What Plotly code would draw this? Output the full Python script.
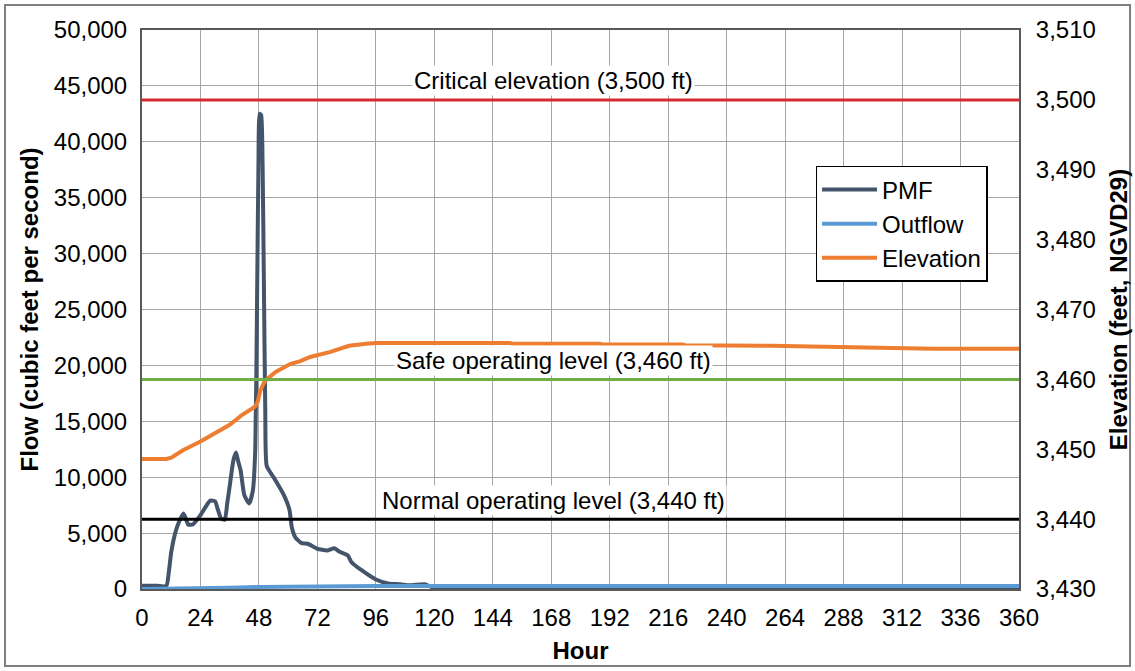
import plotly.graph_objects as go

# ---------------- data ----------------
pmf_hours = [0, 5, 10, 11, 12, 13.5, 15, 17, 18, 19, 21, 24, 26, 28, 30, 31, 32.5, 34, 35, 36,
             37.5, 38.6, 39.5, 40.5, 42, 44, 45.5, 46.5, 47.2, 47.8, 48.3, 48.9, 49.5, 50, 50.6,
             51.2, 54, 58, 60.5, 61.5, 63, 65.5, 68, 72, 76, 79, 81, 84.5, 86, 90, 96, 101, 106,
             110, 116, 119.5, 124, 360]
pmf_flow = [300, 300, 280, 1500, 3300, 4900, 5900, 6750, 6300, 5750, 5800, 6600, 7300, 7900, 7850,
            7200, 6300, 6200, 7700, 9200, 11500, 12200, 11400, 10600, 8400, 7650, 8800, 12500,
            25000, 38000, 42500, 42400, 38000, 28000, 16000, 11000, 10000, 8500, 7100, 5500, 4600,
            4100, 4050, 3600, 3450, 3650, 3350, 3000, 2400, 1700, 850, 500, 420, 330, 420, 120, 50, 50]

outflow_hours = [0, 12, 24, 36, 48, 60, 72, 96, 120, 360]
outflow_flow = [0, 20, 60, 120, 180, 220, 240, 260, 270, 270]

elev_hours = [0, 10, 12, 17, 24, 30.7, 36, 41, 46.4, 47.5, 48.5, 50, 51.5, 55, 60.8, 65, 69, 77,
              85, 92, 96, 151, 152, 188, 189, 222, 223, 258, 292, 325, 360]
elev_ft = [3448.6, 3448.6, 3448.8, 3449.9, 3451.1, 3452.5, 3453.5, 3454.9, 3456.1, 3456.8, 3458.3,
           3459.5, 3460.1, 3461.1, 3462.2, 3462.6, 3463.2, 3463.9, 3464.8, 3465.1, 3465.2, 3465.2,
           3465.1, 3465.1, 3465.0, 3465.0, 3464.9, 3464.8, 3464.6, 3464.4, 3464.4]

ref_levels = [3500, 3460, 3440]
ref_labels = ["Critical elevation (3,500 ft)", "Safe operating level (3,460 ft)",
              "Normal operating level (3,440 ft)"]
ref_colors = ["#D42A2F", "#70AD47", "#000000"]

x_ticks = list(range(0, 361, 24))

FONT = "Liberation Sans, Arial, sans-serif"
FS = 24

fig = go.Figure()
fig.add_trace(go.Scatter(x=pmf_hours, y=pmf_flow, name="PMF", mode="lines",
                         line=dict(color="#44546A", width=4, shape="spline", smoothing=0.5)))
fig.add_trace(go.Scatter(x=outflow_hours, y=outflow_flow, name="Outflow", mode="lines",
                         line=dict(color="#5B9BD5", width=4)))
fig.add_trace(go.Scatter(x=elev_hours, y=elev_ft, name="Elevation", mode="lines", yaxis="y2",
                         line=dict(color="#ED7D31", width=4)))

shapes = []
annotations = []
for lvl, lab, col in zip(ref_levels, ref_labels, ref_colors):
    shapes.append(dict(type="line", xref="x", yref="y2", x0=0, x1=360, y0=lvl, y1=lvl,
                       line=dict(color=col, width=3), layer="above"))
    annotations.append(dict(x=169, y=lvl, xref="x", yref="y2", text=lab, showarrow=False,
                            yshift=19, bgcolor="white", borderpad=1,
                            font=dict(family=FONT, size=FS, color="black")))

# outer frame
shapes.append(dict(type="rect", xref="paper", yref="paper", x0=-0.1562, x1=1.1266,
                   y0=-0.1377, y1=1.0447, line=dict(color="#7F7F7F", width=2), layer="below"))

fig.update_layout(
    width=1135, height=671,
    margin=dict(l=142, r=116, t=30, b=82, autoexpand=False),
    paper_bgcolor="white", plot_bgcolor="white",
    font=dict(family=FONT, size=FS, color="black"),
    shapes=shapes, annotations=annotations,
    showlegend=True,
    legend=dict(x=0.768, y=0.757, xanchor="left", yanchor="top", bgcolor="white",
                bordercolor="black", borderwidth=1.5, font=dict(family=FONT, size=FS),
                tracegroupgap=0, itemwidth=55, entrywidth=188, entrywidthmode="pixels"),
    xaxis=dict(range=[0, 360], tickvals=x_ticks, showgrid=True, gridcolor="#A6A6A6", gridwidth=1,
               showline=True, linecolor="#595959", linewidth=2, mirror=True, zeroline=False,
               ticks="outside", ticklen=6, tickcolor="rgba(0,0,0,0)", automargin=False,
               title=dict(text="<b>Hour</b>", standoff=12, font=dict(size=FS))),
    yaxis=dict(range=[0, 50000], dtick=5000, tickformat=",", showgrid=True, gridcolor="#A6A6A6",
               gridwidth=1, showline=True, linecolor="#595959", linewidth=2, mirror=True,
               zeroline=False, ticks="outside", ticklen=8, tickcolor="rgba(0,0,0,0)",
               automargin=False,
               title=dict(text="<b>Flow (cubic feet per second)</b>", standoff=8, font=dict(size=FS))),
    yaxis2=dict(range=[3430, 3510], dtick=10, tickformat=",", overlaying="y", side="right",
                showgrid=False, showline=True, linecolor="#595959", linewidth=2, zeroline=False,
                ticks="outside", ticklen=10, tickcolor="rgba(0,0,0,0)", automargin=False,
                title=dict(text="<b>Elevation (feet, NGVD29)</b>", standoff=15, font=dict(size=FS))),
)

fig.write_html("out.html")
